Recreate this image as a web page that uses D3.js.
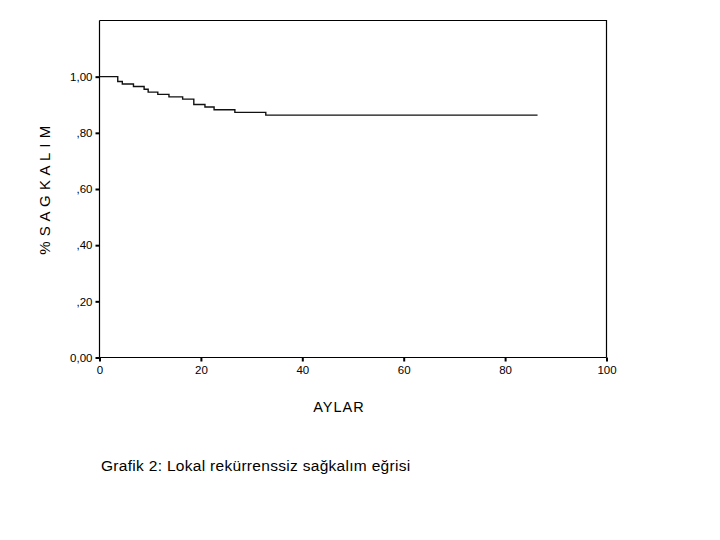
<!DOCTYPE html>
<html><head><meta charset="utf-8">
<script src="https://cdn.jsdelivr.net/npm/d3@7"></script>
<style>body{margin:0;background:#fff}svg{display:block}text{font-family:"Liberation Sans",Arial,sans-serif;fill:#000}</style>
</head><body><svg id="c" width="720" height="540"></svg>
<script>
const stepTimes = [0, 3.6, 4.5, 6.7, 8.8, 9.6, 11.5, 13.7, 16.4, 18.6, 20.8, 22.6, 26.7, 32.8];
const survival  = [1.00, 0.983, 0.974, 0.965, 0.955, 0.945, 0.937, 0.928, 0.920, 0.901, 0.892, 0.882, 0.873, 0.863];
const lastTime = 86.4;
const xTicks = [0, 20, 40, 60, 80, 100];
const yTicks = [0, 0.2, 0.4, 0.6, 0.8, 1.0];
const yTickLabels = ["0,00", ",20", ",40", ",60", ",80", "1,00"];
const xTitle = "AYLAR";
const yTitle = "% S A G K A L I M";
const caption = "Grafik 2: Lokal rekürrenssiz sağkalım eğrisi";

const svg = d3.select("#c");
const x = d3.scaleLinear().domain([0, 100]).range([99.5, 606.5]);
const y = d3.scaleLinear().domain([0, 1.2]).range([357.5, 20.5]);

svg.append("path").attr("d", `M${x(0)},${y(1.2)}H${x(100)}V${y(0)}`).attr("fill","none").attr("stroke","#000").attr("stroke-width",1.2);

const xa = svg.append("g").attr("transform", `translate(0,${y(0)})`)
  .call(d3.axisBottom(x).tickValues(xTicks).tickSize(4).tickPadding(4).tickFormat(d3.format("d")));
const ya = svg.append("g").attr("transform", `translate(${x(0)},0)`)
  .call(d3.axisLeft(y).tickValues(yTicks).tickSize(4).tickPadding(3).tickFormat((d,i)=>yTickLabels[i]));
[xa, ya].forEach(g => {
  g.select(".domain").attr("stroke","#000").attr("stroke-width",1.2);
  g.selectAll(".tick line").attr("stroke","#000").attr("stroke-width",2);
  g.selectAll("text").style("font-size","11.5px").style("font-family","'Liberation Sans',Arial,sans-serif").attr("fill","#000");
});
ya.selectAll(".domain").attr("d", `M0,${y(0)}V${y(1.2)}`);
xa.selectAll(".domain").attr("d", `M${x(0)},0H${x(100)}`);

const pts = stepTimes.map((t,i)=>[t, survival[i]]);
pts.push([lastTime, survival[survival.length-1]]);
const line = d3.line().x(d=>x(d[0])).y(d=>y(d[1])).curve(d3.curveStepAfter);
svg.append("path").datum(pts).attr("d", line).attr("fill","none").attr("stroke","#111").attr("stroke-width",1.4);

svg.append("text").attr("x", 339).attr("y", 412).attr("text-anchor","middle").style("font-size","14.5px").style("letter-spacing","1px").text(xTitle);
svg.append("text").attr("transform","translate(50,190) rotate(-90)").attr("text-anchor","middle").style("font-size","15px").style("letter-spacing","0.6px").text(yTitle);
svg.append("text").attr("x", 101).attr("y", 471).style("font-size","15.5px").style("letter-spacing","0.3px").text(caption);
</script></body></html>
